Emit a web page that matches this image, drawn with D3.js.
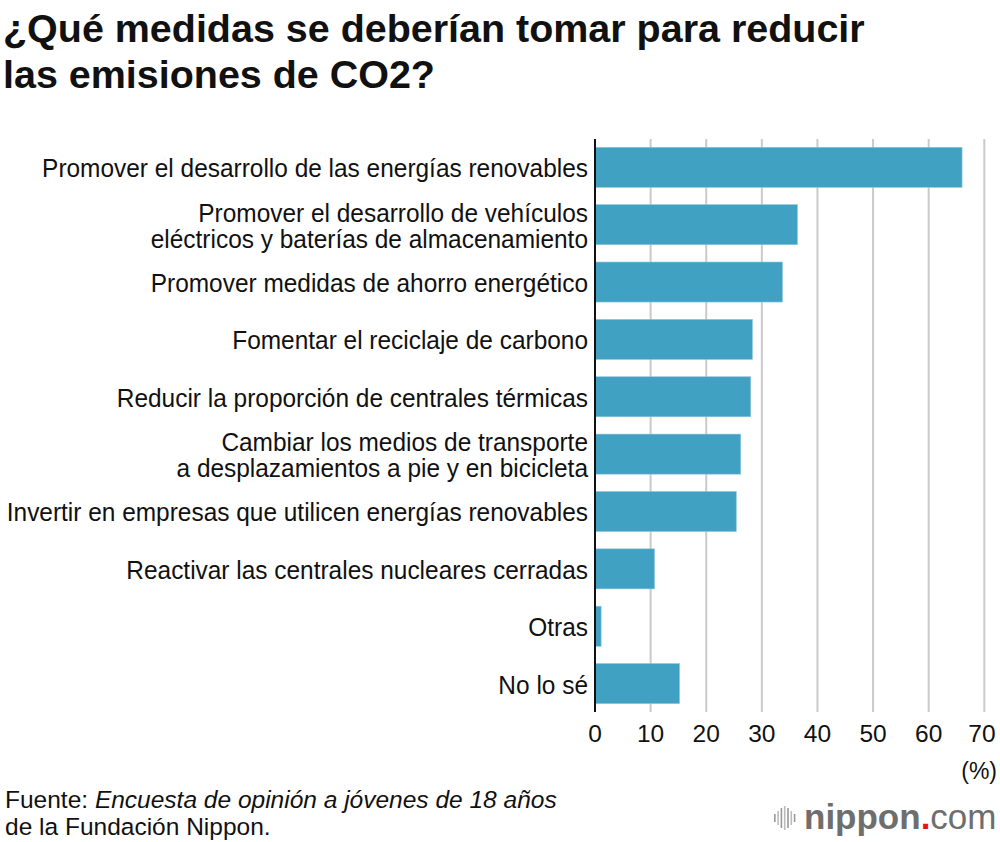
<!DOCTYPE html>
<html>
<head>
<meta charset="utf-8">
<script src="https://cdn.jsdelivr.net/npm/d3@7"></script>
<style>
  body { margin: 0; background: #fff; }
  svg { display: block; }
  text { font-family: "Liberation Sans", Arial, Helvetica, sans-serif; }
</style>
</head>
<body>
<div id="chart"></div>
<script>
// categories (each label may wrap on two lines)
const categories = [
    ["Promover el desarrollo de las energías renovables"],
    ["Promover el desarrollo de vehículos", "eléctricos y baterías de almacenamiento"],
    ["Promover medidas de ahorro energético"],
    ["Fomentar el reciclaje de carbono"],
    ["Reducir la proporción de centrales térmicas"],
    ["Cambiar los medios de transporte", "a desplazamientos a pie y en bicicleta"],
    ["Invertir en empresas que utilicen energías renovables"],
    ["Reactivar las centrales nucleares cerradas"],
    ["Otras"],
    ["No lo sé"]
];
const values = [66.0, 36.4, 33.7, 28.3, 28.0, 26.2, 25.4, 10.7, 1.1, 15.2];
const xTicks = [0, 10, 20, 30, 40, 50, 60, 70];
const titleLines = ["¿Qué medidas se deberían tomar para reducir", "las emisiones de CO2?"];

function setup_chart_area() {
    const width = 1000, height = 842;
    var svg = d3.select("#chart")
        .append("svg")
        .attr("width", width)
        .attr("height", height);
    return [width, height, svg];
}

// squeeze a group horizontally so the reference text gets the wanted width (condensed face)
function condense(g, refNode, wanted, anchorX) {
    var k = wanted / refNode.getComputedTextLength();
    g.attr("transform", `translate(${anchorX}, 0) scale(${k}, 1)`);
}

function draw_bars() {
    var [width, height, svg] = setup_chart_area();

    const left = 595, right = 984.3, top = 139, bottom = 712;

    var x = d3.scaleLinear()
        .domain([0, 70])
        .range([left, right]);
    var y = d3.scaleBand()
        .domain(d3.range(values.length))
        .range([118.6, 732.3])  // step ~57.3
        .paddingInner(0.302)
        .paddingOuter(0.5);

    // title
    var tg = svg.append("g");
    var title = tg.append("text")
        .attr("font-size", 39)
        .attr("font-weight", "bold")
        .attr("fill", "#111");
    title.selectAll("tspan")
        .data(titleLines)
        .join("tspan")
        .attr("x", 0)
        .attr("y", function(d, i) { return 42 + i * 46; })
        .text(function(d) { return d; });
    var probe = tg.append("text").attr("font-size", 39).attr("font-weight", "bold")
        .attr("opacity", 0).text(titleLines[0]);
    condense(tg, probe.node(), 862, 3);
    probe.remove();

    // gridlines
    svg.append("g")
        .selectAll("line")
        .data(xTicks.slice(1))
        .join("line")
        .attr("x1", function(d) { return x(d); })
        .attr("x2", function(d) { return x(d); })
        .attr("y1", top)
        .attr("y2", bottom)
        .attr("stroke", "#cacaca")
        .attr("stroke-width", 2);

    // bars
    svg.append("g")
        .selectAll("rect")
        .data(values)
        .join("rect")
        .attr("x", x(0))
        .attr("y", function(d, i) { return y(i); })
        .attr("width", function(d) { return x(d) - x(0); })
        .attr("height", y.bandwidth())
        .attr("fill", "#41a1c3")
        .attr("stroke", "#8cc6db")
        .attr("stroke-width", 0.6);

    // axis line
    svg.append("line")
        .attr("x1", x(0)).attr("x2", x(0))
        .attr("y1", top).attr("y2", bottom)
        .attr("stroke", "#111")
        .attr("stroke-width", 2);

    // category labels
    var labels = svg.append("g")
        .attr("font-size", 25.5)
        .attr("fill", "#111")
        .attr("text-anchor", "end");
    var first;
    categories.forEach(function(lines, i) {
        var cy = y(i) + y.bandwidth() / 2;
        var t = labels.append("text");
        lines.forEach(function(line, j) {
            t.append("tspan")
                .attr("x", 0)
                .attr("y", cy + 10 + (j - (lines.length - 1) / 2) * 26)
                .text(line);
        });
        if (i === 0) first = t;
    });
    condense(labels, first.node(), 546, 588);

    // x tick labels
    svg.append("g")
        .attr("font-size", 24.5)
        .attr("fill", "#111")
        .attr("text-anchor", "middle")
        .selectAll("text")
        .data(xTicks)
        .join("text")
        .attr("x", function(d) { return Math.min(x(d), 982); })
        .attr("y", 742)
        .text(function(d) { return d; });

    svg.append("text")
        .attr("x", 997).attr("y", 779)
        .attr("font-size", 23)
        .attr("text-anchor", "end")
        .attr("fill", "#111")
        .text("(%)");

    // source
    var src = svg.append("g")
        .attr("font-size", 24.5)
        .attr("fill", "#111");
    var s1 = src.append("text").attr("x", 5).attr("y", 808);
    s1.append("tspan").text("Fuente: ");
    s1.append("tspan").attr("font-style", "italic").text("Encuesta de opinión a jóvenes de 18 años");
    src.append("text").attr("x", 5).attr("y", 835).text("de la Fundación Nippon.");

    // logo
    var logo = svg.append("g");
    var barsH = [8, 14, 20, 24, 20, 14, 8];
    logo.selectAll("rect")
        .data(barsH)
        .join("rect")
        .attr("x", function(d, i) { return 774 + i * 3.3; })
        .attr("y", function(d) { return 818 - d / 2; })
        .attr("width", 1.6)
        .attr("height", function(d) { return d; })
        .attr("fill", function(d, i) { return i % 2 ? "#bbb" : "#999"; });
    var lt = logo.append("text")
        .attr("x", 804).attr("y", 829)
        .attr("font-family", "'Open Sans', 'Noto Sans', sans-serif")
        .attr("font-size", 35)
        .attr("fill", "#6e6e6e");
    lt.append("tspan").attr("font-weight", "bold").text("nippon");
    lt.append("tspan").attr("fill", "#e0161d").attr("font-weight", "bold").text(".");
    lt.append("tspan").attr("font-weight", 300).text("com");
}

draw_bars();
</script>
</body>
</html>
